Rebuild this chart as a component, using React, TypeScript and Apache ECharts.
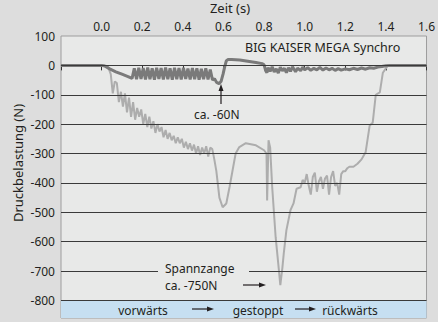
import React, { useEffect, useRef } from "react";
import * as echarts from "echarts";

const xTicks = [-0.2, 0.0, 0.2, 0.4, 0.6, 0.8, 1.0, 1.2, 1.4, 1.6];
const yTickLabels = [100, 0, -100, -200, -300, -400, -500, -600, -700, -800];
const gridValues = [0, -100, -200, -300, -400, -500, -600, -700, -800];
const yMin = -860;
const yMax = 100;
const bandTop = -800;

const seriesNames = ["Spannzange", "BIG KAISER MEGA Synchro"];

const spannzange: [number, number][] = [
  [-0.2, 0], [0.0, 0], [0.03, -2], [0.045, -30], [0.055, -95], [0.065, -55],
  [0.075, -60], [0.085, -125], [0.095, -90], [0.105, -140], [0.115, -95],
  [0.125, -160], [0.135, -110], [0.145, -175], [0.155, -125], [0.165, -185],
  [0.175, -145], [0.185, -175], [0.195, -150], [0.205, -200], [0.215, -165],
  [0.225, -210], [0.235, -175], [0.245, -215], [0.255, -190], [0.265, -230],
  [0.275, -200], [0.285, -225], [0.295, -210], [0.305, -245], [0.315, -220],
  [0.325, -250], [0.335, -230], [0.345, -255], [0.355, -240], [0.365, -265],
  [0.375, -245], [0.385, -265], [0.395, -250], [0.405, -280], [0.415, -260],
  [0.425, -285], [0.435, -265], [0.445, -290], [0.455, -270], [0.465, -300],
  [0.475, -275], [0.485, -305], [0.495, -280], [0.505, -300], [0.515, -275],
  [0.525, -310], [0.535, -280], [0.545, -285], [0.555, -320], [0.565, -360],
  [0.58, -450], [0.596, -483], [0.614, -470], [0.63, -414], [0.645, -357],
  [0.66, -300], [0.678, -278], [0.71, -265], [0.76, -272], [0.8, -289],
  [0.812, -300], [0.815, -460], [0.822, -255], [0.83, -280], [0.84, -414],
  [0.857, -585], [0.873, -697], [0.88, -748], [0.89, -690], [0.897, -640],
  [0.91, -561], [0.93, -493], [0.945, -470], [0.96, -420], [0.98, -415],
  [0.99, -390], [1.0, -400], [1.01, -370], [1.02, -410], [1.03, -440],
  [1.04, -380], [1.05, -365], [1.06, -430], [1.07, -395], [1.08, -380],
  [1.09, -420], [1.1, -385], [1.11, -375], [1.12, -440], [1.13, -380],
  [1.14, -360], [1.15, -410], [1.16, -400], [1.17, -440], [1.18, -370],
  [1.19, -360], [1.2, -360], [1.21, -350], [1.22, -345], [1.24, -345],
  [1.26, -335], [1.28, -320], [1.29, -308], [1.3, -296], [1.31, -250],
  [1.32, -205], [1.335, -195], [1.35, -100], [1.37, -92], [1.385, -25],
  [1.41, 0], [1.6, 0],
];

const synchro: [number, number][] = [
  [-0.2, 0], [0.0, 0], [0.015, -2], [0.04, -12], [0.07, -22], [0.1, -30],
  [0.13, -38], [0.15, -44], [0.161, -10], [0.172, -47], [0.183, -8],
  [0.194, -46], [0.205, -9], [0.216, -48], [0.227, -7], [0.238, -47],
  [0.249, -10], [0.26, -49], [0.271, -8], [0.282, -46], [0.293, -9],
  [0.304, -48], [0.315, -7], [0.326, -47], [0.337, -10], [0.348, -49],
  [0.359, -8], [0.37, -47], [0.381, -9], [0.392, -48], [0.403, -8],
  [0.414, -46], [0.425, -11], [0.436, -48], [0.447, -9], [0.458, -47],
  [0.469, -10], [0.48, -49], [0.491, -12], [0.502, -47], [0.513, -10],
  [0.524, -48], [0.535, -14], [0.546, -50], [0.556, -45], [0.566, -58],
  [0.578, -62], [0.588, -55], [0.598, -30], [0.606, -5], [0.614, 15],
  [0.622, 20], [0.64, 20], [0.68, 18], [0.72, 14], [0.76, 10], [0.79, 6],
  [0.8, 2], [0.808, -18], [0.814, -25], [0.82, -8], [0.83, -20], [0.84, -5],
  [0.85, -22], [0.86, -12], [0.87, -26], [0.88, -6], [0.89, -18], [0.9, -10],
  [0.91, -25], [0.92, -8], [0.93, -20], [0.94, -5], [0.955, -22], [0.965, -10],
  [0.98, -18], [0.99, -6], [1.0, -15], [1.015, -8], [1.03, -17], [1.045, -10],
  [1.06, -15], [1.075, -7], [1.09, -16], [1.105, -9], [1.12, -15], [1.135, -10],
  [1.15, -17], [1.165, -11], [1.18, -16], [1.2, -12], [1.22, -15], [1.24, -10],
  [1.26, -14], [1.28, -9], [1.3, -13], [1.32, -8], [1.34, -10], [1.36, -6],
  [1.38, -4], [1.4, -1], [1.42, 0], [1.6, 0],
];

const FONT = "'Noto Sans', sans-serif";
const TEXT = "#231f20";
const PLOT_BG = "#e8e9e8";

function arrow(x1: number, y1: number, x2: number, y2: number) {
  const dx = x2 - x1;
  const dy = y2 - y1;
  const len = Math.sqrt(dx * dx + dy * dy);
  const ux = dx / len;
  const uy = dy / len;
  const hl = 7;
  const hw = 2.5;
  const bx = x2 - ux * hl;
  const by = y2 - uy * hl;
  return [
    {
      type: "line",
      z: 110,
      shape: { x1, y1, x2: bx, y2: by },
      style: { stroke: TEXT, lineWidth: 1.2 },
    },
    {
      type: "polygon",
      z: 110,
      shape: {
        points: [
          [x2, y2],
          [bx - uy * hw, by + ux * hw],
          [bx + uy * hw, by - ux * hw],
        ],
      },
      style: { fill: TEXT },
    },
  ];
}

function txt(text: string, x: number, y: number, size = 12, align = "left", extra: any = {}) {
  return {
    type: "text",
    x,
    y,
    z: 100,
    ...extra,
    style: {
      text,
      fill: TEXT,
      fontSize: size,
      fontFamily: FONT,
      align,
      verticalAlign: "middle",
      textAlign: align,
      textVerticalAlign: "middle",
    },
  };
}

export default function App() {
  const ref = useRef<HTMLDivElement>(null);
  useEffect(() => {
    if (!ref.current) return;
    const chart = echarts.init(ref.current, undefined, { renderer: "svg" });
    const option: any = {
      animation: false,
      backgroundColor: "#dddddd",
      grid: {
        left: 61,
        right: 9,
        top: 36,
        bottom: 4,
        show: true,
        backgroundColor: PLOT_BG,
        borderColor: "#9d9d9d",
        borderWidth: 1,
      },
      xAxis: {
        type: "value",
        position: "top",
        min: xTicks[0],
        max: xTicks[xTicks.length - 1],
        interval: 0.2,
        axisLine: { show: true, lineStyle: { color: "#9d9d9d", width: 1 } },
        axisTick: { show: true, inside: true, length: 5, lineStyle: { color: "#333" } },
        splitLine: { show: false },
        axisLabel: {
          margin: 4,
          color: TEXT,
          fontSize: 12,
          fontFamily: FONT,
          formatter: (v: number) => (v < -0.1 ? "" : v.toFixed(1)),
        },
      },
      yAxis: {
        type: "value",
        min: yMin,
        max: yMax,
        axisLine: { show: false },
        axisTick: { show: false },
        splitLine: { show: false },
        axisLabel: {
          customValues: yTickLabels,
          margin: 6,
          color: TEXT,
          fontSize: 12,
          fontFamily: FONT,
        },
      },
      series: [
        {
          type: "line",
          data: [],
          z: 1,
          silent: true,
          markArea: {
            silent: true,
            itemStyle: { color: "#c6dff1" },
            data: [[{ yAxis: bandTop }, { yAxis: yMin }]],
          },
          markLine: {
            silent: true,
            symbol: "none",
            label: { show: false },
            lineStyle: { color: "#3a3a3a", width: 1, type: "solid" },
            data: gridValues.map((v) => ({ yAxis: v })),
          },
        },
        {
          name: seriesNames[0],
          type: "line",
          z: 3,
          data: spannzange,
          showSymbol: false,
          symbol: "none",
          lineStyle: { color: "#adadad", width: 2 },
        },
        {
          name: seriesNames[1],
          type: "line",
          z: 4,
          data: synchro,
          showSymbol: false,
          symbol: "none",
          lineStyle: { color: "#7a7a7a", width: 3 },
        },
      ],
      graphic: [
        txt("Zeit (s)", 230, 8, 13, "center"),
        txt("Druckbelastung (N)", 18, 163, 13, "center", { rotation: Math.PI / 2 }),
        txt(seriesNames[1], 245, 47, 12.5, "left"),
        txt("ca. -60N", 194, 114, 12, "left"),
        ...arrow(221, 104, 221, 84),
        {
          type: "rect",
          z: 90,
          shape: { x: 158, y: 263, width: 91, height: 15 },
          style: { fill: PLOT_BG },
        },
        txt(seriesNames[0], 165, 268, 12, "left"),
        txt("ca. -750N", 165, 285, 12, "left"),
        ...arrow(243, 285, 266, 285),
        txt("vorwärts", 143, 310, 12, "center"),
        ...arrow(192, 309, 214, 309),
        txt("gestoppt", 258, 310, 12, "center"),
        ...arrow(295, 309, 316, 309),
        txt("rückwärts", 350, 310, 12, "center"),
      ],
    };
    chart.setOption(option);
    return () => chart.dispose();
  }, []);
  return (
    <div
      ref={ref}
      style={{ position: "fixed", left: 0, top: 0, width: 438, height: 322 }}
    />
  );
}
